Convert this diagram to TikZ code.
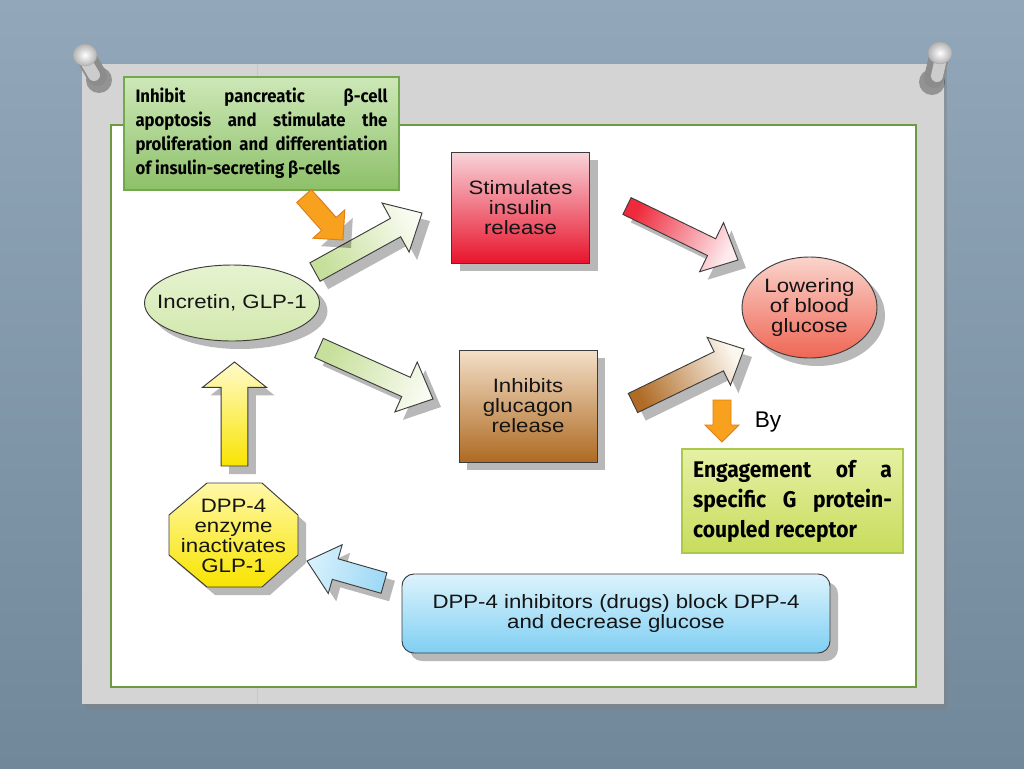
\documentclass[tikz,border=0pt]{standalone}
\usepackage{fontspec}
\setmainfont{Liberation Sans}
\newfontfamily\arialw[FakeStretch=1.15]{Liberation Sans}
\newfontfamily\condb[FakeStretch=0.93]{Fira Sans}
\usetikzlibrary{shapes.geometric,shadows,calc}
\definecolor{bgtop}{HTML}{92A8BA}
\definecolor{bgbot}{HTML}{71879A}
\definecolor{board}{HTML}{D4D4D4}
\definecolor{panelgreen}{HTML}{6C9A40}
\definecolor{gbtop}{HTML}{CDE8B8}
\definecolor{gbbot}{HTML}{8DC069}
\definecolor{gbline}{HTML}{74A84E}
\definecolor{egtop}{HTML}{E6F0A4}
\definecolor{egbot}{HTML}{C8DC5C}
\definecolor{egline}{HTML}{A9C84C}
\definecolor{redtop}{HTML}{F8D4DA}
\definecolor{redbot}{HTML}{E8142C}
\definecolor{brtop}{HTML}{F3DFC8}
\definecolor{brbot}{HTML}{AE6A22}
\definecolor{inctop}{HTML}{E6F3D0}
\definecolor{incbot}{HTML}{D2E8AE}
\definecolor{lowtop}{HTML}{FAD4CC}
\definecolor{lowbot}{HTML}{EF6654}
\definecolor{yeltop}{HTML}{FFF8A8}
\definecolor{yelbot}{HTML}{F8E400}
\definecolor{bluetop}{HTML}{DDF3FC}
\definecolor{bluebot}{HTML}{7FCFF3}
\definecolor{orangef}{HTML}{F8A11E}
\definecolor{oranged}{HTML}{E07E12}
\definecolor{darkline}{HTML}{3C3C3C}
\definecolor{greentail}{HTML}{C6DF9A}
\definecolor{greentip}{HTML}{F8FBF0}
\definecolor{redtail}{HTML}{EE2A3C}
\definecolor{redtip}{HTML}{FDEBEE}
\definecolor{browntail}{HTML}{B06C26}
\definecolor{browntip}{HTML}{FBF6EE}
\definecolor{bluetail}{HTML}{9FD9F5}
\definecolor{bluetip}{HTML}{D6F1FC}

\tikzset{
  shad/.style={drop shadow={shadow xshift=6pt,shadow yshift=-6pt,opacity=0.28,fill=black}},
  flowbox/.style={draw=darkline,line width=0.7pt,shad,font=\arialw\fontsize{14.5}{15}\selectfont,align=center,inner sep=0pt,text=black!92},
  notebox/.style={draw=#1,line width=0.8pt,inner sep=0pt},
  fatarrow/.style={draw=darkline,line width=0.7pt,shad,line join=miter},
  orangearrow/.style={draw=oranged,line width=0.7pt,top color=orangef,bottom color=orangef,line join=miter},
}

% #1 style, #2 tail coordinate, #3 tip coordinate, #4 shaft half width, #5 head half width, #6 head length
\newcommand\blockarrow[6]{%
  \pgfpointdiff{\pgfpointanchor{#2}{center}}{\pgfpointanchor{#3}{center}}%
  \pgfgetlastxy{\baX}{\baY}%
  \pgfmathsetmacro\baAng{atan2(\baY,\baX)}%
  \pgfmathsetmacro\baLen{veclen(\baX,\baY)}%
  \pgfmathsetmacro\baSh{\baAng+90}%
  \path[#1,shading angle=\baSh]
    ($(#2)+({\baAng+90}:#4)$)
    -- ($(#2)+({\baAng}:{\baLen pt-#6})+({\baAng+90}:#4)$)
    -- ($(#2)+({\baAng}:{\baLen pt-#6})+({\baAng+90}:#5)$)
    -- (#3)
    -- ($(#2)+({\baAng}:{\baLen pt-#6})+({\baAng-90}:#5)$)
    -- ($(#2)+({\baAng}:{\baLen pt-#6})+({\baAng-90}:#4)$)
    -- ($(#2)+({\baAng-90}:#4)$)
    -- cycle;
}

\begin{document}
\begin{tikzpicture}[x=0.75pt,y=-0.75pt]
\useasboundingbox (0,0) rectangle (1024,768);
% background
\shade[top color=bgtop,bottom color=bgbot] (0,0) rectangle (1024,768);
% board
\fill[board,drop shadow={shadow xshift=2pt,shadow yshift=-4pt,opacity=0.45}] (82,64) rectangle (944,704);
\draw[black!22,line width=0.5pt] (257,64) -- (257,125);
\draw[black!22,line width=0.5pt] (257,687) -- (257,704);
\draw[panelgreen,line width=1.2pt,fill=white] (111,125) rectangle (916,687);

% pins
\fill[black,opacity=0.3] (99,80) circle (13);
\draw[line width=15pt,line cap=round,black!45] (86,57) -- (97,76);
\draw[line width=9pt,line cap=round,black!20] (84,58) -- (94,75);
\shade[inner color=white,outer color=black!30,draw=black!35,line width=0.3pt] (85,55) ellipse (12 and 11);
\fill[black,opacity=0.3] (932,82) circle (13);
\draw[line width=15pt,line cap=round,black!45] (939,57) -- (934,78);
\draw[line width=9pt,line cap=round,black!20] (941,58) -- (937,76);
\shade[inner color=white,outer color=black!30,draw=black!35,line width=0.3pt] (940,53) ellipse (12 and 11);

% main nodes
\node[flowbox,rectangle,minimum width=103.5pt,minimum height=83.25pt,top color=redtop,bottom color=redbot]
  (stim) at (520.5,207.5) {Stimulates\\insulin\\release};
\node[flowbox,rectangle,minimum width=103.5pt,minimum height=84pt,top color=brtop,bottom color=brbot]
  (inhib) at (528,406) {Inhibits\\glucagon\\release};
\node[flowbox,ellipse,inner xsep=-10pt,minimum width=131.25pt,minimum height=57pt,top color=inctop,bottom color=incbot]
  (incretin) at (232,303) {Incretin, GLP-1};
\node[flowbox,ellipse,inner xsep=-4pt,minimum width=101.25pt,minimum height=75.75pt,top color=lowtop,bottom color=lowbot]
  (lower) at (809.5,307.5) {Lowering\\of blood\\glucose};
\node[flowbox,rectangle,rounded corners=9pt,minimum width=321pt,minimum height=59.25pt,top color=bluetop,bottom color=bluebot]
  (drugs) at (616,613.5) {DPP-4 inhibitors (drugs) block DPP-4\\and decrease glucose};
% octagon
\path[draw=darkline,line width=0.7pt,shad,top color=yeltop,bottom color=yelbot]
  (207,483) -- (262,483) -- (298,515) -- (298,555) -- (262,587) -- (207,587) -- (169,555) -- (169,515) -- cycle;
\node[font=\arialw\fontsize{14.5}{15}\selectfont,align=center,text=black!92,inner sep=0pt,minimum width=96pt,minimum height=78pt]
  (dpp) at (233.5,536) {DPP-4\\enzyme\\inactivates\\GLP-1};

% note boxes
\node[notebox=gbline,top color=gbtop,bottom color=gbbot,minimum width=206.25pt,minimum height=84.75pt]
  (note) at (261.5,133.5) {\parbox{189pt}{\hyphenpenalty=10000\condb\bfseries\fontsize{13.5}{18}\selectfont
  Inhibit pancreatic β-cell\linebreak apoptosis and stimulate the\linebreak proliferation and differentiation\linebreak of insulin-secreting β-cells}};
\node[notebox=egline,top color=egtop,bottom color=egbot,minimum width=165.75pt,minimum height=78pt]
  (engage) at (792.5,501) {\parbox{149pt}{\hyphenpenalty=10000\condb\bfseries\fontsize{17}{22.5}\selectfont
  Engagement of a\linebreak specific G protein-\linebreak coupled receptor}};
\node[font=\fontsize{17}{17}\selectfont,inner sep=0pt] (by) at (768,422) {By};

% arrow end points
\coordinate (g1s) at (315,272);  \coordinate (g1e) at (422,213);
\coordinate (g2s) at (319,348);  \coordinate (g2e) at (433,399);
\coordinate (r1s) at (627,206);  \coordinate (r1e) at (738,260);
\coordinate (b1s) at (633,403);  \coordinate (b1e) at (744,349);
\coordinate (o1s) at (304,196);  \coordinate (o1e) at (343,240);
\coordinate (o2s) at (722,400);  \coordinate (o2e) at (722,442);
\coordinate (y1s) at (234.5,466); \coordinate (y1e) at (234.5,362);
\coordinate (u1s) at (384,583);  \coordinate (u1e) at (307,561);

\blockarrow{fatarrow,top color=greentail,bottom color=greentip}{g1s}{g1e}{7.9pt}{21pt}{22.5pt}
\blockarrow{fatarrow,top color=greentail,bottom color=greentip}{g2s}{g2e}{7.9pt}{20.5pt}{22pt}
\blockarrow{fatarrow,top color=redtail,bottom color=redtip}{r1s}{r1e}{7pt}{20.5pt}{22pt}
\blockarrow{fatarrow,top color=browntail,bottom color=browntip}{b1s}{b1e}{8pt}{20pt}{21pt}
\blockarrow{fatarrow,top color=yelbot,bottom color=yeltop!60!white}{y1s}{y1e}{10pt}{24pt}{19pt}
\blockarrow{fatarrow,top color=bluetail,bottom color=bluetip}{u1s}{u1e}{8pt}{19pt}{22pt}
\blockarrow{orangearrow,shad}{o1s}{o1e}{7.3pt}{16pt}{16pt}
\blockarrow{orangearrow}{o2s}{o2e}{6.75pt}{12.75pt}{12.75pt}
\end{tikzpicture}
\end{document}
